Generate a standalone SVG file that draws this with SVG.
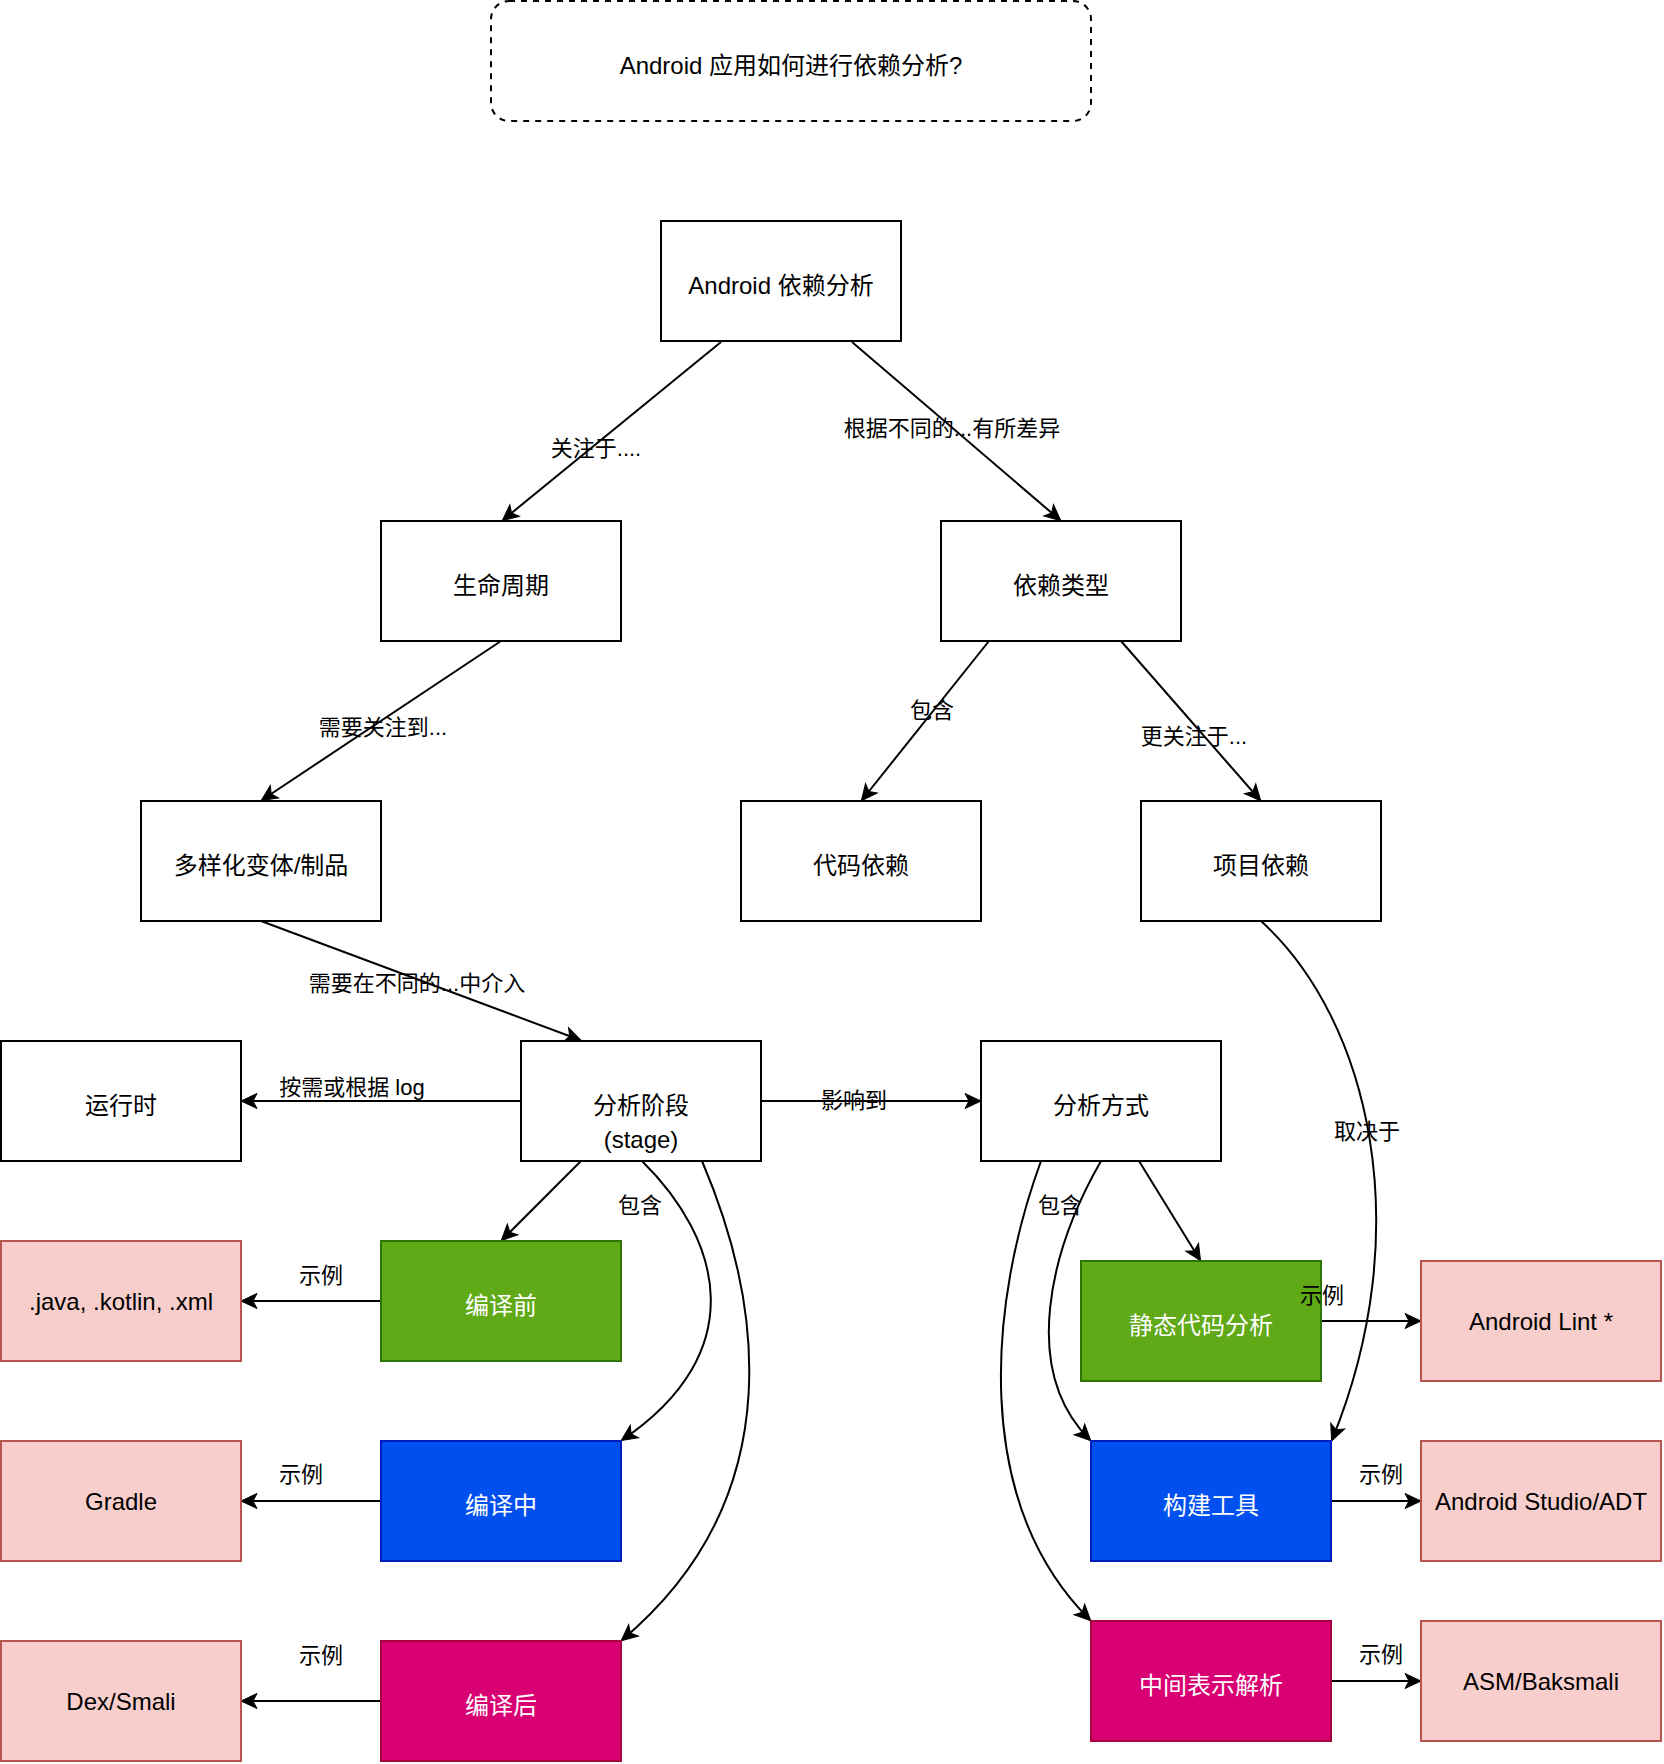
<svg xmlns="http://www.w3.org/2000/svg" width="1664" height="1764" viewBox="0 0 1664 1764">
<style>
  .bg { fill: #ffffff; }
  .box { fill: #ffffff; stroke: #000000; stroke-width: 2; }
  .title { fill: #ffffff; stroke: #000000; stroke-width: 2; stroke-dasharray: 6 6; }
  .green { fill: #60a917; stroke: #2d7600; stroke-width: 2; }
  .blue { fill: #0050ef; stroke: #001dbc; stroke-width: 2; }
  .magenta { fill: #d80073; stroke: #a50040; stroke-width: 2; }
  .pink { fill: #f8cecc; stroke: #b85450; stroke-width: 2; }
  text { font-family: "Liberation Sans", "Noto Sans CJK SC", sans-serif; text-anchor: middle; }
  .nt { font-size: 24px; fill: #000000; }
  .wt { font-size: 24px; fill: #ffffff; }
  .lbl { font-size: 22px; fill: #000000; }
  .edge { fill: none; stroke: #000000; stroke-width: 2; marker-end: url(#arr); }
</style>
<defs>
  <marker id="arr" markerUnits="userSpaceOnUse" markerWidth="20" markerHeight="20" refX="0" refY="0" orient="auto" overflow="visible">
    <path d="M1,0 L-15,-7.5 L-11,0 L-15,7.5 Z" fill="#000000" stroke="#000000" stroke-width="1"/>
  </marker>
</defs>
<rect class="bg" x="0" y="0" width="1664" height="1764"/>

<g id="connectors">
  <path class="edge" d="M721,342 L503,520"/>
  <path class="edge" d="M852,342 L1060,520"/>
  <path class="edge" d="M501,641 L262,800"/>
  <path class="edge" d="M989,641 L862,800"/>
  <path class="edge" d="M1121,641 L1260,800"/>
  <path class="edge" d="M261,921 L580,1040"/>
  <path class="edge" d="M521,1101 L242,1101"/>
  <path class="edge" d="M761,1101 L980,1101"/>
  <path class="edge" d="M581,1161 L502,1240"/>
  <path class="edge" d="M642,1161 C722,1240 752,1352 622,1440"/>
  <path class="edge" d="M702,1161 C757,1290 798,1492 622,1640"/>
  <path class="edge" d="M381,1301 L242,1301"/>
  <path class="edge" d="M381,1501 L242,1501"/>
  <path class="edge" d="M381,1701 L242,1701"/>
  <path class="edge" d="M1139,1161 L1200,1260"/>
  <path class="edge" d="M1101,1161 C1050,1250 1020,1370 1090,1440"/>
  <path class="edge" d="M1041,1161 C990,1300 970,1500 1090,1620"/>
  <path class="edge" d="M1261,921 C1370,1020 1418,1230 1332,1440"/>
  <path class="edge" d="M1321,1321 L1420,1321"/>
  <path class="edge" d="M1331,1501 L1420,1501"/>
  <path class="edge" d="M1331,1681 L1420,1681"/>
</g>

<g id="title">
  <rect class="title" x="491" y="1" width="600" height="120" rx="18" ry="18"/>
  <text class="nt" x="791" y="74">Android 应用如何进行依赖分析?</text>
</g>
<g id="android-dep">
  <rect class="box" x="661" y="221" width="240" height="120"/>
  <text class="nt" x="781" y="294">Android 依赖分析</text>
</g>
<g id="lifecycle">
  <rect class="box" x="381" y="521" width="240" height="120"/>
  <text class="nt" x="501" y="594">生命周期</text>
</g>
<g id="dep-type">
  <rect class="box" x="941" y="521" width="240" height="120"/>
  <text class="nt" x="1061" y="594">依赖类型</text>
</g>
<g id="variants">
  <rect class="box" x="141" y="801" width="240" height="120"/>
  <text class="nt" x="261" y="874">多样化变体/制品</text>
</g>
<g id="code-dep">
  <rect class="box" x="741" y="801" width="240" height="120"/>
  <text class="nt" x="861" y="874">代码依赖</text>
</g>
<g id="project-dep">
  <rect class="box" x="1141" y="801" width="240" height="120"/>
  <text class="nt" x="1261" y="874">项目依赖</text>
</g>
<g id="runtime">
  <rect class="box" x="1" y="1041" width="240" height="120"/>
  <text class="nt" x="121" y="1114">运行时</text>
</g>
<g id="stage">
  <rect class="box" x="521" y="1041" width="240" height="120"/>
  <text class="nt" x="641" y="1114">分析阶段</text>
  <text class="nt" x="641" y="1148">(stage)</text>
</g>
<g id="method">
  <rect class="box" x="981" y="1041" width="240" height="120"/>
  <text class="nt" x="1101" y="1114">分析方式</text>
</g>
<g id="src-files">
  <rect class="pink" x="1" y="1241" width="240" height="120"/>
  <text class="nt" x="121" y="1310">.java, .kotlin, .xml</text>
</g>
<g id="pre-compile">
  <rect class="green" x="381" y="1241" width="240" height="120"/>
  <text class="wt" x="501" y="1314">编译前</text>
</g>
<g id="static-analysis">
  <rect class="green" x="1081" y="1261" width="240" height="120"/>
  <text class="wt" x="1201" y="1334">静态代码分析</text>
</g>
<g id="android-lint">
  <rect class="pink" x="1421" y="1261" width="240" height="120"/>
  <text class="nt" x="1541" y="1330">Android Lint *</text>
</g>
<g id="gradle">
  <rect class="pink" x="1" y="1441" width="240" height="120"/>
  <text class="nt" x="121" y="1510">Gradle</text>
</g>
<g id="compiling">
  <rect class="blue" x="381" y="1441" width="240" height="120"/>
  <text class="wt" x="501" y="1514">编译中</text>
</g>
<g id="build-tool">
  <rect class="blue" x="1091" y="1441" width="240" height="120"/>
  <text class="wt" x="1211" y="1514">构建工具</text>
</g>
<g id="android-studio">
  <rect class="pink" x="1421" y="1441" width="240" height="120"/>
  <text class="nt" x="1541" y="1510">Android Studio/ADT</text>
</g>
<g id="ir-parse">
  <rect class="magenta" x="1091" y="1621" width="240" height="120"/>
  <text class="wt" x="1211" y="1694">中间表示解析</text>
</g>
<g id="asm">
  <rect class="pink" x="1421" y="1621" width="240" height="120"/>
  <text class="nt" x="1541" y="1690">ASM/Baksmali</text>
</g>
<g id="dex-smali">
  <rect class="pink" x="1" y="1641" width="240" height="120"/>
  <text class="nt" x="121" y="1710">Dex/Smali</text>
</g>
<g id="post-compile">
  <rect class="magenta" x="381" y="1641" width="240" height="120"/>
  <text class="wt" x="501" y="1714">编译后</text>
</g>

<g id="connector-labels">
  <text class="lbl" x="596" y="456">关注于....</text>
  <text class="lbl" x="952" y="436">根据不同的...有所差异</text>
  <text class="lbl" x="383" y="735">需要关注到...</text>
  <text class="lbl" x="932" y="718">包含</text>
  <text class="lbl" x="1194" y="744">更关注于...</text>
  <text class="lbl" x="417" y="991">需要在不同的...中介入</text>
  <text class="lbl" x="352" y="1095">按需或根据 log</text>
  <text class="lbl" x="854" y="1108">影响到</text>
  <text class="lbl" x="640" y="1213">包含</text>
  <text class="lbl" x="1060" y="1213">包含</text>
  <text class="lbl" x="321" y="1283">示例</text>
  <text class="lbl" x="301" y="1482">示例</text>
  <text class="lbl" x="321" y="1663">示例</text>
  <text class="lbl" x="1322" y="1303">示例</text>
  <text class="lbl" x="1381" y="1482">示例</text>
  <text class="lbl" x="1381" y="1662">示例</text>
  <text class="lbl" x="1367" y="1139">取决于</text>
</g>
</svg>
